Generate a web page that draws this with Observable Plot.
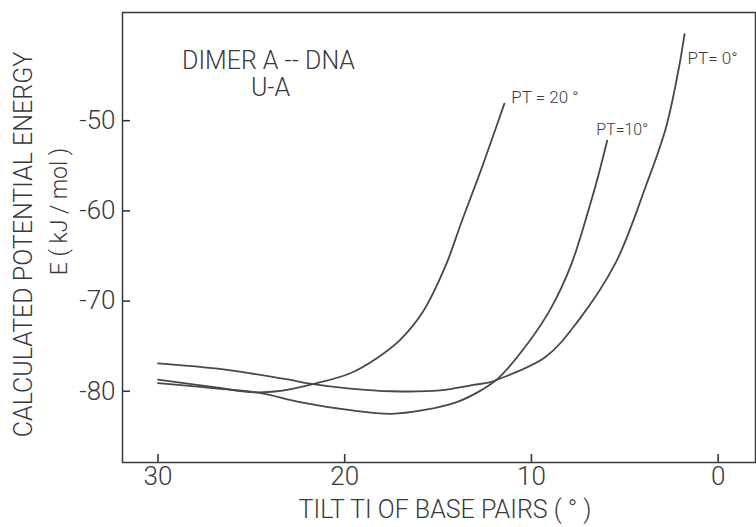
<!DOCTYPE html>
<html><head><meta charset="utf-8">
<script src="https://cdn.jsdelivr.net/npm/d3@7"></script>
<script src="https://cdn.jsdelivr.net/npm/@observablehq/plot@0.6"></script>
<style>body{margin:0;background:#fff} svg{display:block}</style>
</head><body><div id="chart"></div>
<script>
// Tilt TI of base pairs (degrees) and calculated potential energy E (kJ/mol)
const tilt20   = [30, 26.8, 25.0, 23.6, 21.7, 19.7, 18.26, 17.03, 15.83, 14.6, 13.74, 12.83, 12.14, 11.45];
const energy20 = [-78.7, -79.6, -80.1, -80.0, -79.2, -78.0, -76.3, -74.3, -71.25, -66.1, -61.2, -56.2, -52.2, -48.1];
const tilt10   = [30, 26.8, 24.5, 22.4, 19.7, 17.5, 15.8, 14.0, 12.7, 11.8, 10.16, 8.93, 7.86, 6.90, 6.42, 5.94];
const energy10 = [-79.1, -79.7, -80.2, -81.2, -82.1, -82.5, -82.1, -81.2, -79.9, -78.6, -74.6, -70.7, -65.9, -59.6, -56.1, -52.2];
const tilt0    = [30, 26.8, 23.3, 21.7, 19.7, 17.5, 14.9, 13.1, 12.2, 11.8, 9.25, 7.5, 5.5, 3.9, 2.8, 2.1, 1.8];
const energy0  = [-76.9, -77.5, -78.6, -79.2, -79.7, -80.0, -79.9, -79.3, -79.0, -78.7, -76.2, -72.2, -65.8, -57.4, -50.8, -44.1, -40.4];
const seriesLabels = ["PT = 20 °", "PT=10°", "PT= 0°"];
const xTicks = [30, 20, 10, 0];
const yTicks = [-50, -60, -70, -80];
const titleLines = ["DIMER A -- DNA", "U-A"];
const yLabelLines = ["CALCULATED POTENTIAL ENERGY", "E ( kJ / mol )"];
const xLabel = "TILT TI OF BASE PAIRS ( ° )";

const series = [
  {label: seriesLabels[0], t: tilt20, e: energy20},
  {label: seriesLabels[1], t: tilt10, e: energy10},
  {label: seriesLabels[2], t: tilt0,  e: energy0}
];
const rows = series.flatMap(s => s.t.map((t, i) => ({series: s.label, tilt: t, energy: s.e[i]})));
const ends = series.map(s => ({series: s.label, tilt: s.t[s.t.length - 1], energy: s.e[s.e.length - 1]}));

const ink = "#3a3a3a";
const lineInk = "#484848";
const labelOffsets = [{dx: 7, dy: -6, size: 17}, {dx: -11, dy: -11, size: 16}, {dx: 3, dy: 24, size: 17}];
const tickLen = 8;

const chart = Plot.plot({
  width: 756,
  height: 527,
  marginLeft: 122,
  marginRight: 1,
  marginTop: 12,
  marginBottom: 65,
  style: {fontFamily: "Roboto, sans-serif", fontWeight: 300, fontSize: "26px", color: ink, background: "#fff"},
  x: {domain: [31.9, -2], ticks: xTicks},
  y: {domain: [-87.9, -38.0], ticks: yTicks},
  marks: [
    Plot.frame({stroke: ink, strokeWidth: 1.5}),
    // tick labels
    Plot.axisX({ticks: xTicks, tickSize: 0, tickPadding: 4, label: null, fontSize: 26}),
    Plot.axisY({ticks: yTicks, tickSize: 0, tickPadding: 7, label: null, fontSize: 26, tickFormat: d => "-" + Math.abs(d)}),
    // inward tick marks
    Plot.axisX({ticks: xTicks, tickSize: tickLen, dy: -tickLen, tickFormat: () => "", label: null, stroke: ink, strokeWidth: 1.6}),
    Plot.axisY({ticks: yTicks, tickSize: tickLen, dx: tickLen, tickFormat: () => "", label: null, stroke: ink, strokeWidth: 1.6}),
    Plot.line(rows, {x: "tilt", y: "energy", z: "series", curve: "catmull-rom", stroke: lineInk, strokeWidth: 1.8}),
    ...ends.map((d, i) => Plot.text([d], {x: "tilt", y: "energy", text: "series", textAnchor: "start", fontSize: labelOffsets[i].size, fill: ink, dx: labelOffsets[i].dx, dy: labelOffsets[i].dy})),
    Plot.text([titleLines[0]], {frameAnchor: "top-left", text: d => d, textAnchor: "middle", lineAnchor: "bottom", dx: 146, dy: 56, fontSize: 25, fill: ink}),
    Plot.text([titleLines[1]], {frameAnchor: "top-left", text: d => d, textAnchor: "middle", lineAnchor: "bottom", dx: 148, dy: 83, fontSize: 25, fill: ink}),
    Plot.text([yLabelLines[0]], {frameAnchor: "left", text: d => d, rotate: -90, textAnchor: "middle", lineAnchor: "middle", dx: -99, dy: 7, fontSize: 25, fill: ink}),
    Plot.text([yLabelLines[1]], {frameAnchor: "left", text: d => d, rotate: -90, textAnchor: "middle", lineAnchor: "middle", dx: -63, dy: -26, fontSize: 23, fill: ink}),
    Plot.text([xLabel], {frameAnchor: "bottom", text: d => d, textAnchor: "middle", lineAnchor: "bottom", dx: 6, dy: 55, fontSize: 25, fill: ink, style: "letter-spacing:0.5px"})
  ]
});
document.getElementById("chart").append(chart);
</script>
</body></html>
